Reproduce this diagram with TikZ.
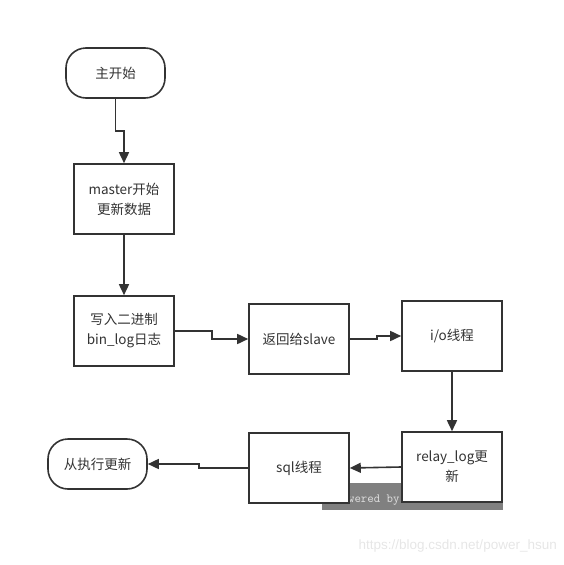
\documentclass[tikz,border=0pt]{standalone}
\usepackage{fontspec}
\setmainfont{Noto Sans CJK SC}
\newfontfamily\wmsans{Liberation Sans}
\usetikzlibrary{arrows.meta}
\definecolor{ln}{HTML}{333333}
\definecolor{wmgray}{HTML}{808080}
\definecolor{wmtext}{HTML}{E0E0E0}
\definecolor{urltext}{HTML}{E6E6E6}
\tikzset{
  box/.style={draw=ln, line width=1.6pt, fill=white, minimum width=100pt, minimum height=70pt, inner sep=0pt, align=center, font=\fontsize{13.5}{20}\selectfont, text=ln},
  pill/.style={draw=ln, line width=1.6pt, fill=white, rounded corners=20pt, minimum width=99pt, minimum height=50pt, inner sep=0pt, align=center, font=\fontsize{13.5}{20}\selectfont, text=ln},
  conn/.style={draw=ln, line width=1.6pt, -{Triangle[length=11pt,width=10pt]}}
}
\begin{document}
\begin{tikzpicture}[x=1pt,y=-1pt]
\useasboundingbox (0,0) rectangle (564,565);
% watermark
\fill[wmgray] (322,483) rectangle (503,510);
\node[anchor=base west, inner sep=0pt, text=wmtext, font=\ttfamily\fontsize{12.5}{14}\selectfont] (pw) at (335,502) {Powered by};
\node[anchor=east, inner sep=0pt, text=urltext, font=\wmsans\fontsize{13.5}{15}\selectfont] (url) at (557,546) {https://blog.csdn.net/power\_hsun};
% nodes
\node[pill] (start) at (115.5,73) {主开始};
\node[box] (master) at (124,199) {master开始\\更新数据};
\node[box] (write) at (124,331) {写入二进制\\bin\_log日志};
\node[box] (ret) at (299,339) {返回给slave};
\node[box] (io) at (452,336) {i/o线程};
\node[box] (relay) at (452,467) {relay\_log更\\新};
\node[box] (sql) at (299,468) {sql线程};
\node[pill] (fin) at (97.5,464) {从执行更新};
% connectors
\draw[conn] (start.south) -- ++(0,32) -| (master.north);
\draw[conn] (master.south) -- (write.north);
\draw[conn] (write.east) -- ++(37,0) |- (ret.west);
\draw[conn] (ret.east) -- ++(27,0) |- (io.west);
\draw[conn] (io.south) -- (relay.north);
\draw[conn] (relay.west) -- (sql.east);
\draw[conn] (sql.west) -- ++(-49,0) |- (fin.east);
\end{tikzpicture}
\end{document}
